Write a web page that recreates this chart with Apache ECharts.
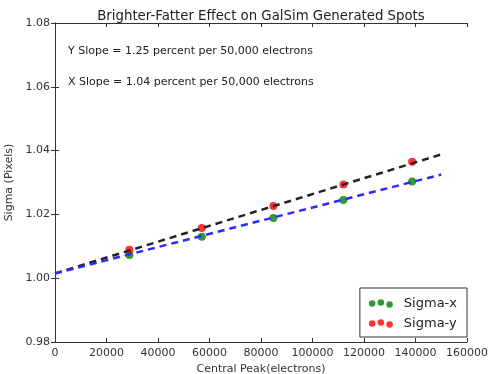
<!DOCTYPE html>
<html>
<head>
<meta charset="utf-8">
<script src="https://cdn.jsdelivr.net/npm/echarts@6/dist/echarts.min.js"></script>
<style>
  html, body { margin: 0; padding: 0; background: #fff; }
  #chart { width: 489px; height: 374px; }
</style>
</head>
<body>
<div id="chart"></div>
<script>
// measured spot peaks and widths
const peaks = [28900, 57000, 84800, 112000, 138700]
const sigmaX = [1.0073, 1.0130, 1.0189, 1.0245, 1.0303]
const sigmaY = [1.0089, 1.0157, 1.0226, 1.0294, 1.0365]

// linear fits, drawn from 0 to 150000 electrons
const fitPeaks = [0, 150000]
const fitX = [1.0015, 1.0325]
const fitY = [1.0015, 1.0388]

const yTicks = [0.98, 1.00, 1.02, 1.04, 1.06, 1.08]

const notes = [
  'Y Slope = 1.25 percent per 50,000 electrons',
  'X Slope = 1.04 percent per 50,000 electrons'
]

const font = 'DejaVu Sans'
const textColor = '#333'
const threeDots = 'path://M0,5a3,3 0 1,0 6,0a3,3 0 1,0 -6,0M8,4a3,3 0 1,0 6,0a3,3 0 1,0 -6,0M16,6a3,3 0 1,0 6,0a3,3 0 1,0 -6,0'

const pairs = (xs, ys) => xs.map((x, i) => [x, ys[i]])

const chart = echarts.init(document.getElementById('chart'), null, { renderer: 'canvas' })

const axisLine = { show: true, lineStyle: { color: '#333', width: 1 } }
const tick = { show: true, inside: true, length: 4, lineStyle: { color: '#333' } }

const option = {
  backgroundColor: '#fff',
  animation: false,
  title: {
    text: 'Brighter-Fatter Effect on GalSim Generated Spots',
    left: 256,
    textAlign: 'center',
    top: 5,
    textStyle: { fontFamily: font, fontSize: 13.3, fontWeight: 'normal', color: '#222' }
  },
  grid: { left: 55, right: 22, top: 23, bottom: 32, containLabel: false, outerBoundsMode: 'none' },
  xAxis: [{
    type: 'value',
    min: 0,
    max: 160000,
    interval: 20000,
    position: 'bottom',
    name: 'Central Peak(electrons)',
    nameLocation: 'middle',
    nameGap: 20,
    nameTextStyle: { fontFamily: font, fontSize: 11, color: textColor },
    axisLine: axisLine,
    axisTick: tick,
    axisLabel: { fontFamily: font, fontSize: 11, color: textColor, margin: 6, formatter: v => String(v) },
    splitLine: { show: false }
  }, {
    type: 'value',
    min: 0,
    max: 160000,
    interval: 20000,
    position: 'top',
    axisLine: axisLine,
    axisTick: tick,
    axisLabel: { show: false },
    splitLine: { show: false }
  }],
  yAxis: [{
    type: 'value',
    min: yTicks[0],
    max: yTicks[yTicks.length - 1],
    interval: 0.02,
    position: 'left',
    name: 'Sigma (Pixels)',
    nameLocation: 'middle',
    nameGap: 34,
    nameTextStyle: { fontFamily: font, fontSize: 11, color: textColor },
    axisLine: axisLine,
    axisTick: tick,
    axisLabel: { fontFamily: font, fontSize: 11, color: textColor, margin: 5, formatter: v => v.toFixed(2) },
    splitLine: { show: false }
  }, {
    type: 'value',
    min: yTicks[0],
    max: yTicks[yTicks.length - 1],
    interval: 0.02,
    position: 'right',
    axisLine: axisLine,
    axisTick: tick,
    axisLabel: { show: false },
    splitLine: { show: false }
  }],
  legend: {
    orient: 'vertical',
    right: 22,
    bottom: 37,
    backgroundColor: '#fff',
    borderColor: '#333',
    borderWidth: 1,
    borderRadius: 0,
    padding: [9, 10, 7, 9],
    itemGap: 7,
    itemWidth: 24,
    itemHeight: 10,
    textStyle: { fontFamily: font, fontSize: 13, color: '#222', padding: [0, 0, 0, 6] },
    data: [
      { name: 'Sigma-x', icon: threeDots },
      { name: 'Sigma-y', icon: threeDots }
    ]
  },
  graphic: notes.map((t, i) => ({
    type: 'text',
    left: 68,
    top: 46 + i * 31,
    style: { text: t, font: '11px "DejaVu Sans"', fill: '#222' }
  })),
  series: [{
    name: 'Sigma-x',
    type: 'scatter',
    data: pairs(peaks, sigmaX),
    symbolSize: 8,
    itemStyle: { color: '#008000' },
    z: 2
  }, {
    name: 'Sigma-y',
    type: 'scatter',
    data: pairs(peaks, sigmaY),
    symbolSize: 8,
    itemStyle: { color: '#ff0000' },
    z: 2
  }, {
    name: 'fit-y',
    type: 'line',
    data: pairs(fitPeaks, fitY),
    showSymbol: false,
    lineStyle: { color: '#222', width: 2.5, type: [7, 5] },
    z: 3
  }, {
    name: 'fit-x',
    type: 'line',
    data: pairs(fitPeaks, fitX),
    showSymbol: false,
    lineStyle: { color: '#2a2aff', width: 2.5, type: [7, 5] },
    z: 3
  }]
}

chart.setOption(option)
</script>
</body>
</html>
